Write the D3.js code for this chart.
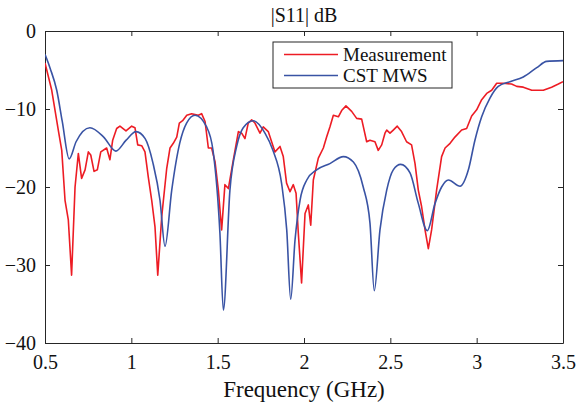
<!DOCTYPE html>
<html>
<head>
<meta charset="utf-8">
<script src="https://cdn.jsdelivr.net/npm/d3@7"></script>
<style>
  body { margin: 0; background: #fff; }
  svg, svg text { font-family: "Liberation Serif", "Times New Roman", serif; }
</style>
</head>
<body>
<div id="chart"></div>
<script>
// measured |S11| (GHz, dB)
const freqMeas = [0.5, 0.539, 0.577, 0.597, 0.616, 0.635, 0.654, 0.674, 0.693, 0.712, 0.732, 0.751, 0.765, 0.784, 0.803, 0.823, 0.857, 0.876, 0.892, 0.915, 0.934, 0.969, 1.002, 1.021, 1.037, 1.06, 1.079, 1.098, 1.118, 1.137, 1.153, 1.176, 1.205, 1.224, 1.243, 1.263, 1.278, 1.297, 1.321, 1.349, 1.388, 1.407, 1.427, 1.446, 1.465, 1.485, 1.504, 1.523, 1.542, 1.562, 1.591, 1.62, 1.639, 1.658, 1.677, 1.697, 1.716, 1.745, 1.764, 1.793, 1.832, 1.861, 1.88, 1.899, 1.919, 1.938, 1.954, 1.967, 1.986, 2.006, 2.025, 2.039, 2.054, 2.083, 2.112, 2.131, 2.15, 2.17, 2.199, 2.218, 2.243, 2.276, 2.305, 2.334, 2.363, 2.382, 2.411, 2.43, 2.45, 2.469, 2.479, 2.498, 2.517, 2.54, 2.565, 2.594, 2.623, 2.643, 2.662, 2.681, 2.701, 2.72, 2.739, 2.768, 2.797, 2.817, 2.846, 2.874, 2.913, 2.942, 2.971, 3.0, 3.029, 3.058, 3.087, 3.116, 3.154, 3.202, 3.232, 3.27, 3.319, 3.386, 3.434, 3.473, 3.5];
const s11Meas = [-4.1, -7.6, -12.7, -15.3, -21.7, -24.2, -31.3, -20.0, -15.7, -18.9, -17.8, -15.5, -15.9, -18.0, -17.8, -15.5, -15.0, -16.5, -14.0, -12.5, -12.2, -12.8, -12.2, -12.4, -14.6, -14.7, -15.5, -18.7, -21.7, -25.1, -31.3, -23.8, -17.6, -15.0, -14.4, -13.6, -11.8, -11.5, -10.8, -10.6, -10.8, -10.6, -11.6, -15.0, -15.0, -16.8, -20.4, -25.5, -19.7, -20.2, -16.5, -12.9, -13.1, -13.8, -11.8, -11.4, -11.8, -13.1, -12.3, -12.9, -15.5, -14.8, -16.1, -19.5, -20.6, -19.7, -20.8, -25.9, -32.3, -23.4, -22.3, -24.9, -19.1, -16.3, -15.0, -13.6, -12.3, -10.8, -11.0, -10.2, -9.6, -10.3, -11.2, -11.3, -14.2, -14.0, -14.2, -15.3, -14.6, -13.1, -12.7, -13.1, -12.7, -12.2, -12.9, -14.2, -14.6, -17.0, -20.4, -22.5, -25.5, -27.9, -25.5, -20.4, -16.1, -15.0, -14.4, -13.6, -12.7, -12.5, -10.9, -10.1, -8.8, -8.0, -7.6, -6.7, -6.7, -6.8, -7.1, -7.2, -7.6, -7.6, -7.2, -6.8, -6.5];

// CST MWS simulated |S11| (GHz, dB)
const freqCst = [0.5, 0.53, 0.568, 0.6, 0.64, 0.68, 0.76, 0.84, 0.91, 0.97, 1.027, 1.08, 1.125, 1.166, 1.195, 1.234, 1.28, 1.32, 1.369, 1.436, 1.473, 1.513, 1.533, 1.571, 1.61, 1.648, 1.706, 1.774, 1.82, 1.87, 1.9, 1.923, 1.948, 1.977, 2.016, 2.073, 2.15, 2.228, 2.286, 2.343, 2.382, 2.407, 2.44, 2.479, 2.517, 2.56, 2.614, 2.662, 2.714, 2.759, 2.797, 2.836, 2.904, 2.952, 2.99, 3.029, 3.077, 3.125, 3.193, 3.27, 3.348, 3.405, 3.5];
const s11Cst = [-3.0, -4.8, -7.6, -11.6, -16.4, -14.2, -12.4, -13.6, -15.4, -14.0, -12.9, -13.8, -16.9, -21.7, -27.6, -20.4, -14.4, -11.8, -10.8, -12.3, -15.3, -25.9, -35.8, -20.4, -14.8, -12.4, -11.5, -13.1, -15.3, -19.5, -25.5, -34.4, -26.8, -21.7, -19.1, -17.8, -17.0, -16.1, -16.8, -20.0, -24.6, -33.3, -25.5, -20.4, -17.8, -17.1, -18.2, -22.1, -25.6, -22.1, -20.0, -19.1, -19.9, -17.8, -14.0, -11.0, -8.6, -7.1, -6.5, -5.9, -4.7, -3.9, -3.8];

const xTicks = [0.5, 1, 1.5, 2, 2.5, 3, 3.5];
const yTicks = [0, -10, -20, -30, -40];
const seriesNames = ["Measurement", "CST MWS"];
const seriesColors = ["#ed1c24", "#3953a4"];

const width = 577, height = 410;
const margin = { top: 31, right: 14, bottom: 67, left: 45 };
const axisColor = "#262626";
const serif = "'Liberation Serif', 'Times New Roman', serif";

const svg = d3.select("#chart").append("svg")
  .attr("width", width)
  .attr("height", height);

const x = d3.scaleLinear().domain([0.5, 3.5]).range([margin.left, width - margin.right]);
const y = d3.scaleLinear().domain([-40, 0]).range([height - margin.bottom, margin.top]);

svg.append("defs").append("clipPath").attr("id", "plot-clip")
  .append("rect")
  .attr("x", margin.left).attr("y", margin.top)
  .attr("width", width - margin.left - margin.right)
  .attr("height", height - margin.top - margin.bottom);

const fmt = d => (d < 0 ? "\u2212" + Math.abs(d) : String(d));

// axes, ticks inward on all four sides
const xAxis = svg.append("g")
  .attr("transform", `translate(0,${height - margin.bottom})`)
  .call(d3.axisBottom(x).tickValues(xTicks).tickFormat(fmt).tickSizeInner(-5).tickSizeOuter(0).tickPadding(12));
const xTop = svg.append("g")
  .attr("transform", `translate(0,${margin.top})`)
  .call(d3.axisTop(x).tickValues(xTicks).tickFormat("").tickSizeInner(-5).tickSizeOuter(0));
const yAxis = svg.append("g")
  .attr("transform", `translate(${margin.left},0)`)
  .call(d3.axisLeft(y).tickValues(yTicks).tickFormat(fmt).tickSizeInner(-5).tickSizeOuter(0).tickPadding(9));
const yRight = svg.append("g")
  .attr("transform", `translate(${width - margin.right},0)`)
  .call(d3.axisRight(y).tickValues(yTicks).tickFormat("").tickSizeInner(-5).tickSizeOuter(0));

[xAxis, xTop, yAxis, yRight].forEach(g => {
  g.attr("font-family", serif).attr("font-size", 20);
  g.select(".domain").attr("stroke", axisColor).attr("stroke-width", 1);
  g.selectAll(".tick line").attr("stroke", axisColor);
  g.selectAll(".tick text")
    .attr("fill", "#111")
    .style("font-family", serif)
    .style("font-size", "20px");
});

const lineMeas = d3.line()
  .x((d, i) => x(freqMeas[i]))
  .y(d => y(d))
  .curve(d3.curveLinear);

const lineCst = d3.line()
  .x((d, i) => x(freqCst[i]))
  .y(d => y(d))
  .curve(d3.curveMonotoneX);

const plot = svg.append("g").attr("clip-path", "url(#plot-clip)");

plot.append("path")
  .datum(s11Meas)
  .attr("d", lineMeas)
  .attr("fill", "none")
  .attr("stroke", seriesColors[0])
  .attr("stroke-width", 1.6)
  .attr("stroke-linejoin", "round");

plot.append("path")
  .datum(s11Cst)
  .attr("d", lineCst)
  .attr("fill", "none")
  .attr("stroke", seriesColors[1])
  .attr("stroke-width", 1.6)
  .attr("stroke-linejoin", "round");

// title
svg.append("text")
  .attr("x", (margin.left + width - margin.right) / 2)
  .attr("y", 22)
  .attr("text-anchor", "middle")
  .style("font-family", serif)
  .style("font-size", "20px")
  .attr("fill", "#111")
  .text("|S11| dB");

// x label
svg.append("text")
  .attr("x", (margin.left + width - margin.right) / 2)
  .attr("y", 397)
  .attr("text-anchor", "middle")
  .style("font-family", serif)
  .style("font-size", "23px")
  .attr("fill", "#111")
  .text("Frequency (GHz)");

// legend
const legend = svg.append("g").attr("transform", "translate(273,42)");
legend.append("rect")
  .attr("width", 179).attr("height", 46)
  .attr("fill", "#fff")
  .attr("stroke", axisColor)
  .attr("stroke-width", 1);

seriesNames.forEach((name, i) => {
  const cy = 12.5 + i * 21;
  legend.append("line")
    .attr("x1", 11).attr("x2", 65)
    .attr("y1", cy).attr("y2", cy)
    .attr("stroke", seriesColors[i])
    .attr("stroke-width", 1.6);
  legend.append("text")
    .attr("x", 70).attr("y", cy + 6.5)
    .style("font-family", serif)
    .style("font-size", "19px")
    .attr("fill", "#111")
    .text(name);
});
</script>
</body>
</html>
